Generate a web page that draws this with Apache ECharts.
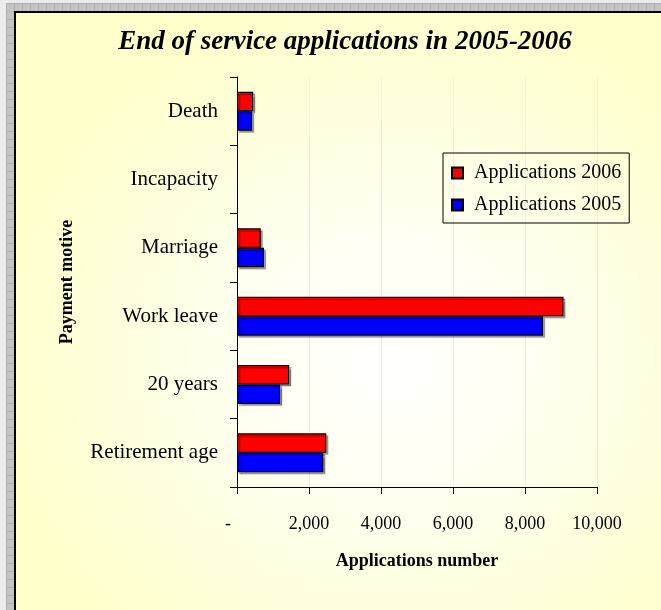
<!DOCTYPE html>
<html lang="en">
<head>
    <meta charset="UTF-8">
    <title>End of service applications in 2005-2006</title>
    <script src="https://cdn.jsdelivr.net/npm/echarts@6/dist/echarts.min.js"></script>
    <style>
        html, body { margin: 0; padding: 0; }
        body { width: 661px; height: 610px; position: relative; overflow: hidden; background: #ececec; }
        /* grey patterned frame behind the chart box */
        #frame {
            position: absolute; left: 6px; top: 3px; right: 0; bottom: 0;
            background-color: #c4c4c4;
            background-image:
                linear-gradient(#b0b0b0 1px, transparent 1px),
                linear-gradient(90deg, #b0b0b0 1px, transparent 1px);
            background-size: 8px 8px;
        }
        #box {
            position: absolute; left: 14px; top: 11px; right: 0; bottom: 0;
            border-left: 2px solid #000; border-top: 2px solid #000;
            background: radial-gradient(ellipse at 58% 58%, #ffffff 0%, #fffff0 30%, #ffffcc 75%);
        }
        #main { position: absolute; left: 0; top: 0; width: 661px; height: 610px; }
    </style>
</head>
<body>
    <div id="frame"></div>
    <div id="box"></div>
    <div id="main"></div>
    <script>
        const serif = "'Liberation Serif', 'Times New Roman', serif";
        // bottom to top, as drawn on the axis
        const motives = ['Retirement age', '20 years', 'Work leave', 'Marriage', 'Incapacity', 'Death'];
        const apps2006 = [2480, 1450, 9070, 660, 0, 450];
        const apps2005 = [2400, 1200, 8500, 750, 0, 420];
        const xTicks = { min: 0, max: 10000, step: 2000 };

        const barStyle = (color) => ({
            color: color,
            borderColor: '#000',
            borderWidth: 1.2,
            shadowColor: 'rgba(0,0,0,0.35)',
            shadowOffsetX: 2,
            shadowOffsetY: 2,
            shadowBlur: 1
        });
        // empty bars (value 0) get no outline, like the original
        const toItems = arr => arr.map(v => v === 0
            ? { value: v, itemStyle: { borderWidth: 0, shadowColor: 'transparent' } }
            : v);

        const myChart = echarts.init(document.getElementById('main'));
        const option = {
            backgroundColor: 'transparent',
            animation: false,
            title: {
                text: 'End of service applications in 2005-2006',
                left: 340, top: 24, textAlign: 'center',
                textStyle: { fontFamily: serif, fontSize: 27, fontStyle: 'italic', fontWeight: 'bold', color: '#000' }
            },
            legend: {
                orient: 'vertical',
                left: 443, top: 153,
                data: ['Applications 2006', 'Applications 2005'],
                icon: 'rect',
                itemWidth: 11, itemHeight: 11, itemGap: 12,
                padding: [10, 8, 8, 8],
                borderColor: '#000', borderWidth: 1,
                textStyle: { fontFamily: serif, fontSize: 20, color: '#000', padding: [0, 0, 0, 6] }
            },
            grid: { left: 237, right: 64, top: 77, bottom: 123 },
            xAxis: {
                type: 'value',
                min: xTicks.min, max: xTicks.max, interval: xTicks.step,
                name: 'Applications number',
                nameLocation: 'middle', nameGap: 65,
                nameTextStyle: { fontFamily: serif, fontSize: 18, fontWeight: 'bold', color: '#000' },
                axisLine: { show: true, lineStyle: { color: '#000', width: 1 } },
                axisTick: { show: true, length: 7, lineStyle: { color: '#000' } },
                axisLabel: {
                    margin: 28, fontFamily: serif, fontSize: 18, color: '#000',
                    formatter: v => v === 0 ? '-    ' : v.toLocaleString('en-US')
                },
                splitLine: { show: true, lineStyle: { color: '#f7f3c4', width: 1 } }
            },
            yAxis: {
                type: 'category',
                data: motives,
                name: 'Payment motive',
                nameLocation: 'middle', nameGap: 161, nameRotate: 90,
                nameTextStyle: { fontFamily: serif, fontSize: 18, fontWeight: 'bold', color: '#000' },
                axisLine: { show: true, lineStyle: { color: '#000', width: 1 } },
                axisTick: { show: true, length: 7, lineStyle: { color: '#000' } },
                axisLabel: { margin: 19, fontFamily: serif, fontSize: 21, color: '#000' }
            },
            series: [
                {
                    name: 'Applications 2006', type: 'bar', data: toItems(apps2006),
                    barGap: '0%', barCategoryGap: '43%',
                    itemStyle: barStyle('#ff0000')
                },
                {
                    name: 'Applications 2005', type: 'bar', data: toItems(apps2005),
                    barGap: '0%', barCategoryGap: '43%',
                    itemStyle: barStyle('#0000ff')
                }
            ]
        };
        myChart.setOption(option);
    </script>
</body>
</html>
